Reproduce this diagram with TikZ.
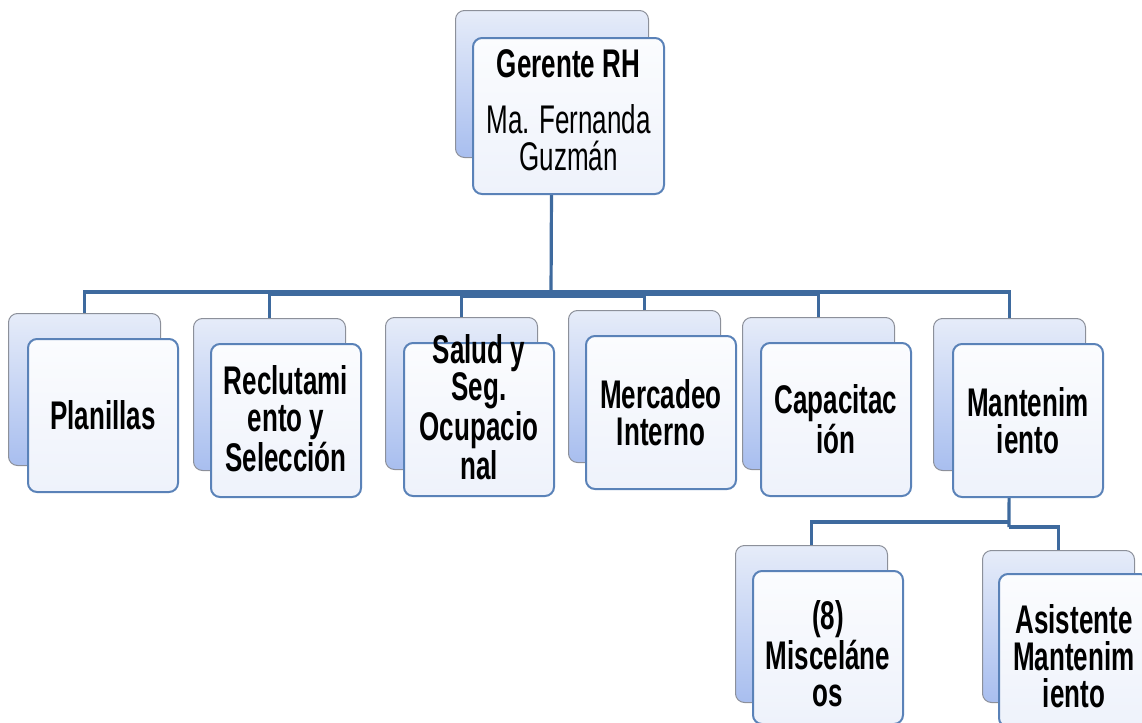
\documentclass[tikz,border=0pt]{standalone}
\usepackage{fontspec}
\setmainfont{Liberation Sans}[FakeStretch=0.65]
\usetikzlibrary{backgrounds}
\definecolor{backtop}{HTML}{E6ECF9}
\definecolor{backbot}{HTML}{A8BEEF}
\definecolor{backline}{HTML}{8C909A}
\definecolor{frontline}{HTML}{5A82B8}
\definecolor{fronttop}{HTML}{FBFCFE}
\definecolor{frontbot}{HTML}{EEF2FB}
\definecolor{connc}{HTML}{3E6A9E}
\tikzset{
  backbox/.style={draw=backline, line width=0.5pt, rounded corners=4.5pt, top color=backtop, bottom color=backbot, anchor=north west, inner sep=0pt, minimum width=76pt, minimum height=76pt},
  frontbox/.style={draw=frontline, line width=1pt, rounded corners=4.5pt, top color=fronttop, bottom color=frontbot, anchor=north west, inner sep=0pt, minimum width=75pt, minimum height=76.5pt},
  lbl/.style={align=center, font=\fontsize{20}{18.5}\selectfont\bfseries, inner sep=0pt, text=black},
  link/.style={draw=connc, line width=1.6pt},
}
\begin{document}
\begin{tikzpicture}[x=0.5pt, y=-0.5pt]
\useasboundingbox (0,0) rectangle (1142,723);
\clip (0,0) rectangle (1142,723);
% top node
\node[backbox, minimum width=96.5pt, minimum height=73.5pt] (gerB) at (455,10) {};
\node[frontbox, minimum width=95.5pt, minimum height=78pt] (gerF) at (472,37) {};
\node[lbl] (gerT) at ([yshift=3pt]gerF.center) {Gerente RH\\[9.5pt]{\mdseries Ma. Fernanda}\\{\mdseries Guzmán}};
% second level
\node[backbox] (planB) at (8,313) {};
\node[frontbox] (planF) at (27,338) {};
\node[lbl] (planT) at (planF.center) {Planillas};

\node[backbox] (reclB) at (193,318) {};
\node[frontbox] (reclF) at (210,343) {};
\node[lbl] (reclT) at ([yshift=1pt]reclF.center) {Reclutami\\ento y\\Selección};

\node[backbox] (saludB) at (385,317) {};
\node[frontbox] (saludF) at (403,342) {};
\node[lbl] (saludT) at ([yshift=6pt]saludF.center) {Salud y\\Seg.\\Ocupacio\\nal};

\node[backbox] (mercB) at (568,310) {};
\node[frontbox] (mercF) at (585,335) {};
\node[lbl] (mercT) at (mercF.center) {Mercadeo\\Interno};

\node[backbox] (capB) at (742,317) {};
\node[frontbox] (capF) at (760,342) {};
\node[lbl] (capT) at (capF.center) {Capacitac\\ión};

\node[backbox] (mantB) at (933,318) {};
\node[frontbox] (mantF) at (952,343) {};
\node[lbl] (mantT) at (mantF.center) {Mantenim\\iento};
% third level
\node[backbox, minimum height=78.5pt] (miscB) at (735,545) {};
\node[frontbox] (miscF) at (752,570) {};
\node[lbl] (miscT) at ([yshift=-3pt]miscF.center) {(8)\\Misceláne\\os};

\node[backbox] (asisB) at (982,550) {};
\node[frontbox] (asisF) at (998,573) {};
\node[lbl] (asisT) at ([yshift=-3pt]asisF.center) {Asistente\\Mantenim\\iento};
% connectors
\coordinate (j1) at (551,292);
\coordinate (j2) at (551,294);
\coordinate (j3) at (551,296);
\coordinate (k1) at (1009,522);
\coordinate (k2) at (1009,527);
\begin{scope}[on background layer]
\draw[link] (gerB.center) -- (j3);
\draw[link] (j1) -| (planB.north);
\draw[link] (j1) -| (mantB.north);
\draw[link] (j2) -| (reclB.north);
\draw[link] (j2) -| (capB.north);
\draw[link] (j3) -| (saludB.north);
\draw[link] (j3) -| (mercB.north);
\draw[link] (mantB.center) -- (k2);
\draw[link] (k1) -| (miscB.north);
\draw[link] (k2) -| (asisB.north);
\end{scope}
\end{tikzpicture}
\end{document}
